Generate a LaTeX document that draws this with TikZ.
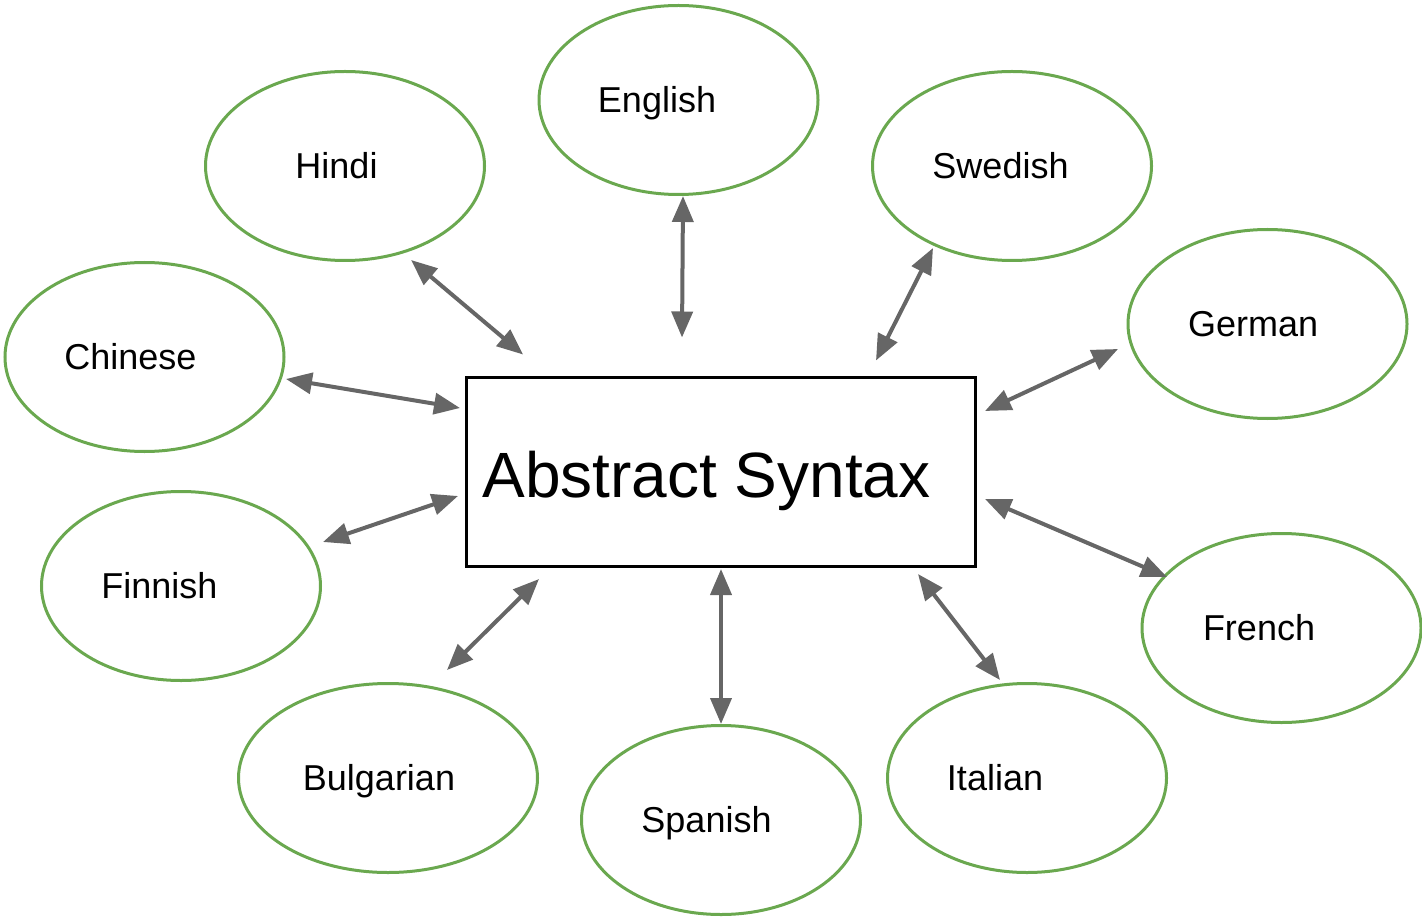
\documentclass[tikz,border=0pt]{standalone}
\usepackage{fontspec}
\setmainfont{Liberation Sans}
\usepackage{xcolor}
\usepackage{tikz}
\usetikzlibrary{shapes.geometric,arrows.meta,calc}
\definecolor{langgreen}{RGB}{106, 168, 79}
\definecolor{linkgray}{RGB}{102, 102, 102}

\begin{document}
\begin{tikzpicture}[x=0.5pt, y=-0.5pt,
    lang/.style={ellipse, draw=langgreen, line width=1.5pt, minimum width=139.5pt, minimum height=94.5pt, inner sep=0pt},
    langtext/.style={font=\fontsize{18}{22}\selectfont, text height=12.9pt, text depth=0pt, inner sep=0pt},
    absbox/.style={rectangle, draw=black, line width=1.5pt, minimum width=254.5pt, minimum height=94.5pt, inner sep=0pt},
    link/.style={{Triangle[length=13pt,width=10.5pt]}-{Triangle[length=13pt,width=10.5pt]}, draw=linkgray, line width=2pt}]
        \useasboundingbox (0,0) rectangle (1422,919);

        % Central box
        \node[absbox, label={[font=\fontsize{32}{38}\selectfont, text height=22.9pt, text depth=0pt, inner sep=0pt, xshift=-7.25pt, yshift=-1.3pt]center:Abstract Syntax}] (abs) at (721,471.5) {};

        % Languages round the box
        \node[lang, label={[langtext, xshift=-10.75pt]center:English}] (english) at (678.5,100) {};
        \node[lang, label={[langtext, xshift=-4.25pt]center:Hindi}] (hindi) at (345,166) {};
        \node[lang, label={[langtext, xshift=-5.75pt]center:Swedish}] (swedish) at (1012,166) {};
        \node[lang, label={[langtext, xshift=-7pt]center:Chinese}] (chinese) at (144.5,357) {};
        \node[lang, label={[langtext, xshift=-7.25pt]center:German}] (german) at (1267.5,324) {};
        \node[lang, label={[langtext, xshift=-10.75pt]center:Finnish}] (finnish) at (181,586) {};
        \node[lang, label={[langtext, xshift=-11.25pt]center:French}] (french) at (1281.5,628) {};
        \node[lang, minimum width=149.5pt, label={[langtext, xshift=-4.5pt]center:Bulgarian}] (bulgarian) at (388,778) {};
        \node[lang, label={[langtext, xshift=-7.25pt]center:Spanish}] (spanish) at (721,820) {};
        \node[lang, label={[langtext, xshift=-16pt]center:Italian}] (italian) at (1027,778) {};

        % Two-way links
        \draw[link] ($(hindi)+(66,94)$) -- ($(abs.north west)+(58,-21)$);
        \draw[link] ($(english)+(4.5,96)$) -- ($(abs.north)+(-39,-38)$);
        \draw[link] ($(swedish)+(-79,82)$) -- ($(abs.north east)+(-101,-15)$);
        \draw[link] ($(chinese)+(141.5,22)$) -- ($(abs.west)+(-5,-63.5)$);
        \draw[link] ($(german)+(-149.5,25)$) -- ($(abs.east)+(8,-60.5)$);
        \draw[link] ($(finnish)+(142,-44)$) -- ($(abs.west)+(-7,24.5)$);
        \draw[link] ($(abs.east)+(8,27.5)$) -- ($(french)+(-114.5,-51)$);
        \draw[link] ($(abs.south west)+(74,11.5)$) -- ($(bulgarian)+(59,-108)$);
        \draw[link] ($(abs.south)+(0,1.5)$) -- ($(spanish)+(0,-96)$);
        \draw[link] ($(abs.south east)+(-59,6.5)$) -- ($(italian)+(-27,-98)$);
    \end{tikzpicture}
\end{document}
